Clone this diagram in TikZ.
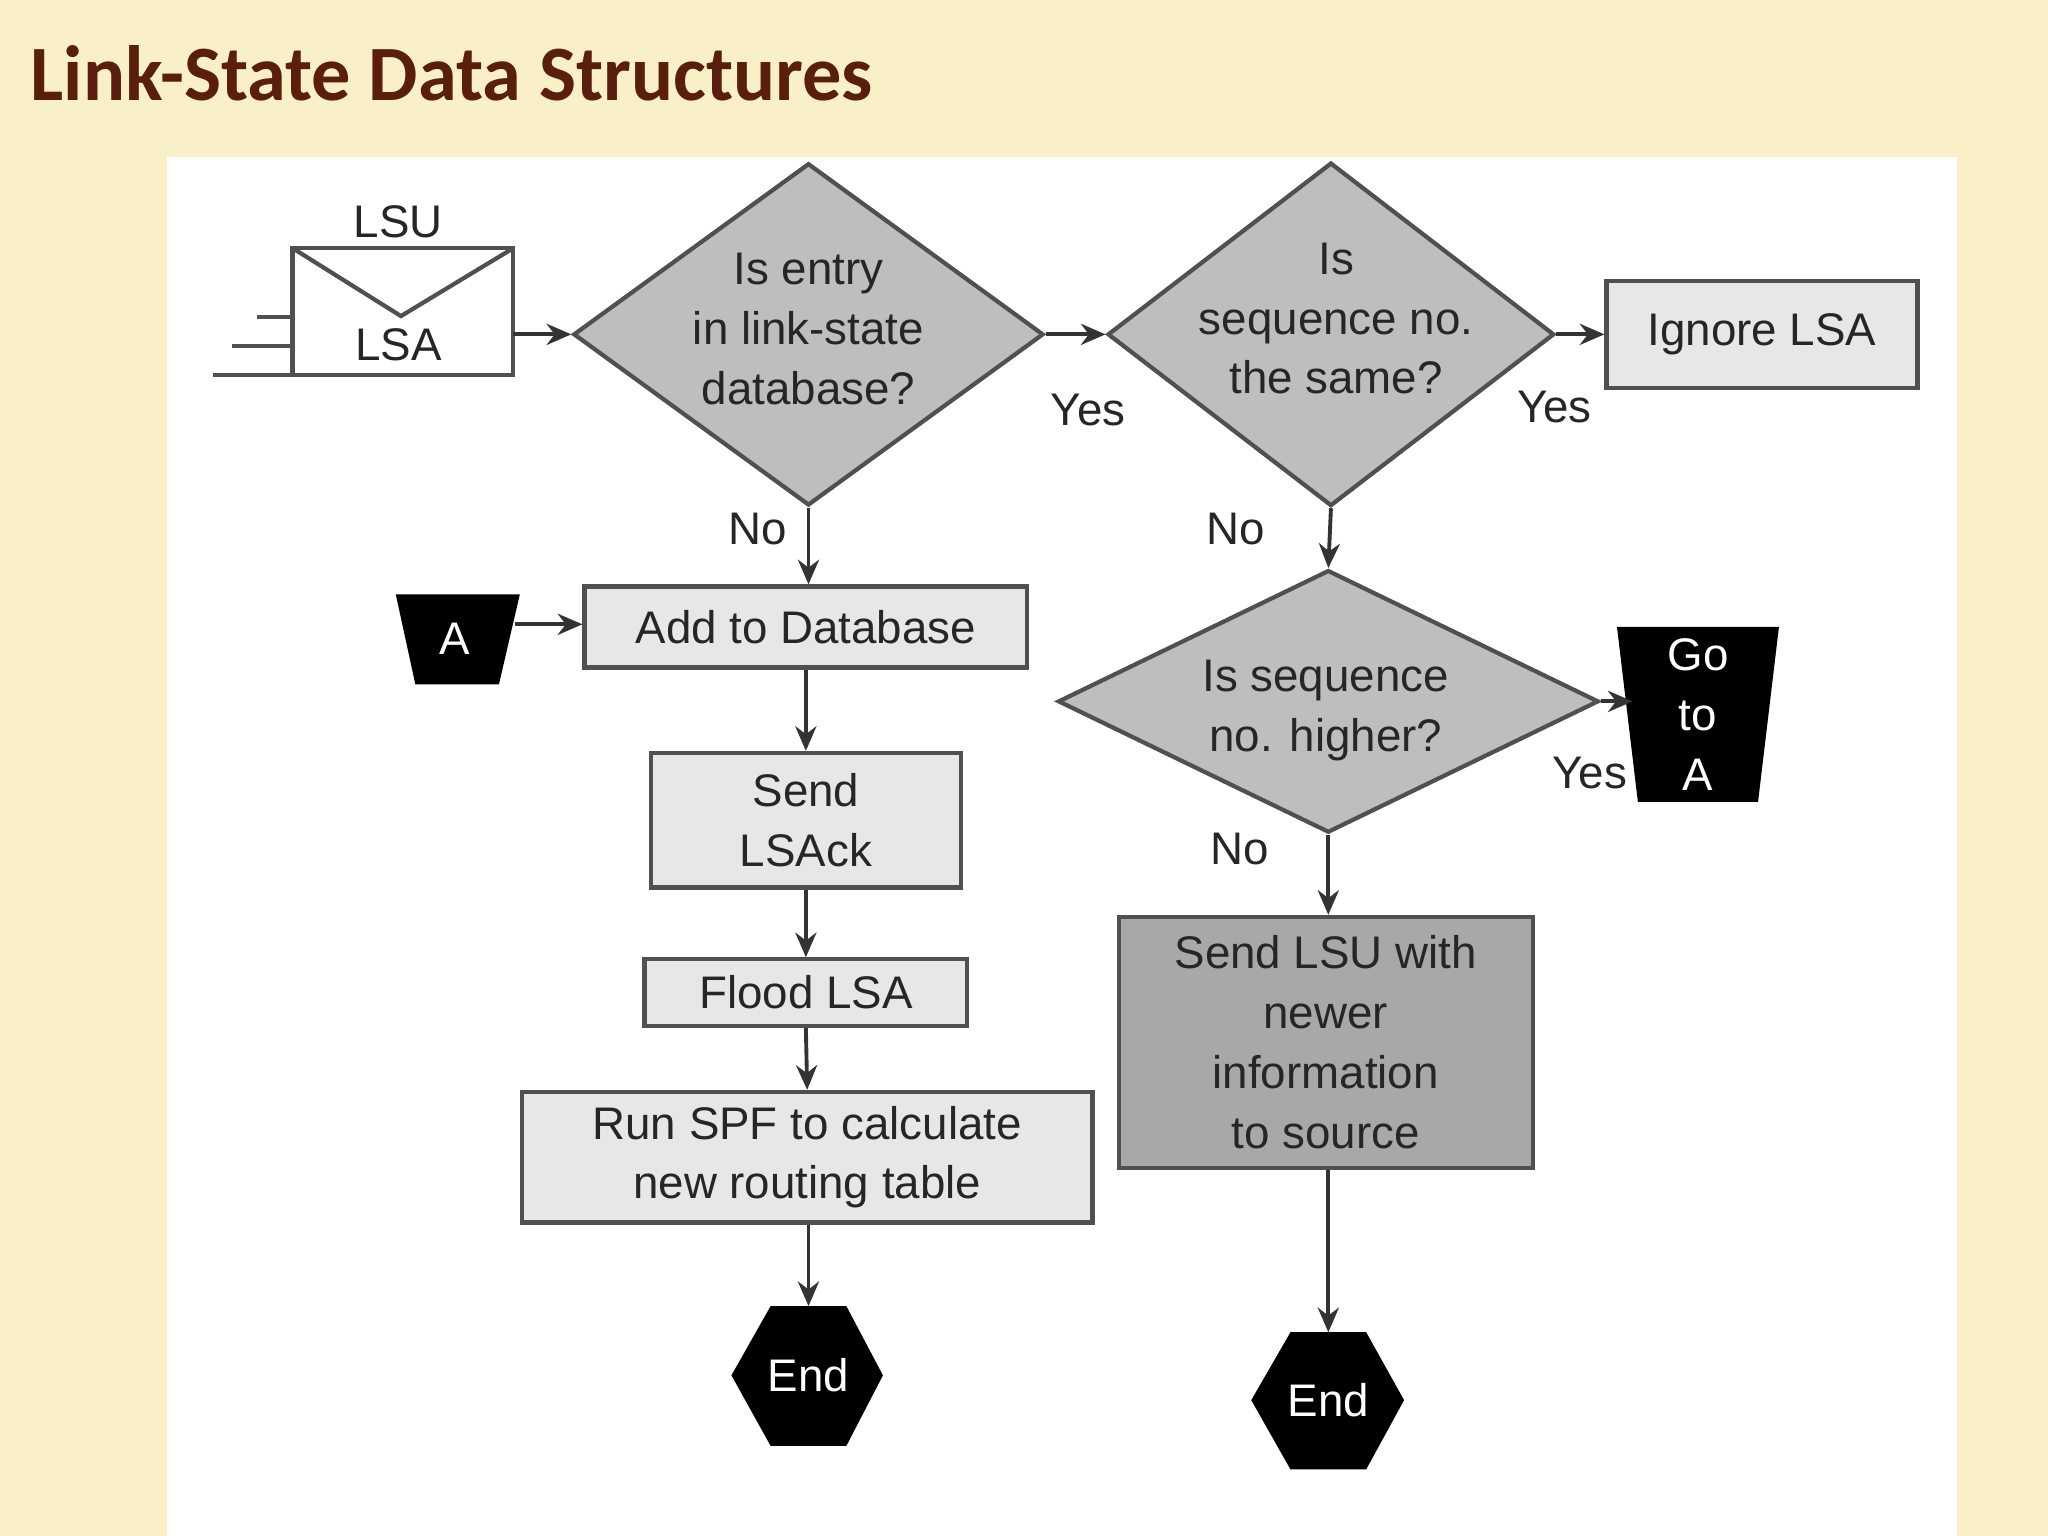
\documentclass[tikz,border=0pt]{standalone}
\usepackage{fontspec}
\setmainfont{Liberation Sans}
\newfontfamily\titlefont{Carlito}
\usetikzlibrary{shapes.geometric,arrows.meta}
\definecolor{bgy}{RGB}{250,240,200}
\definecolor{ttl}{RGB}{90,30,12}
\definecolor{lbox}{RGB}{230,232,232}
\definecolor{dbox}{RGB}{168,168,168}
\definecolor{dia}{RGB}{190,190,190}
\definecolor{edge}{RGB}{80,80,80}
\begin{document}
\begin{tikzpicture}[x=0.01306cm,y=-0.01306cm,
  txt/.style={font=\fontsize{13}{17}\selectfont,align=center,text=black!85},
  box/.style={draw=edge,line width=1.2pt,fill=lbox,inner sep=0pt},
  dshape/.style={diamond,draw=edge,line width=1.2pt,fill=dia,inner sep=0pt},
  arr/.style={-{Stealth[length=7pt,width=6pt]},line width=1.1pt,black!80},
  lab/.style={font=\fontsize{13}{15}\selectfont,text=black!85}]
\fill[bgy] (0,0) rectangle (1568,1176);
\fill[white] (128,120) rectangle (1498,1176);
\useasboundingbox (0,0) rectangle (1568,1176);
\node[anchor=west,font=\titlefont\bfseries\fontsize{22.3}{26}\selectfont,text=ttl] (title) at (14,56) {Link-State Data Structures};
% envelope
\draw[edge,line width=1.2pt] (224,190) rectangle (393,287);
\draw[edge,line width=1.2pt] (224,190) -- (307,242) -- (393,190);
\draw[edge,line width=1.2pt] (197,243) -- (224,243) (178,265) -- (224,265) (163,287) -- (224,287);
\node[txt] (lsu) at (305,170) {LSU};
\node[txt] (lsa) at (305,264) {LSA};
\coordinate (env) at (393,256);
% diamonds
\node[dshape,minimum width=360*0.01306cm,minimum height=262*0.01306cm] (d1) at (619,256) {};
\node[txt] at (619,252) {Is entry\\in link-state\\database?};
\node[dshape,minimum width=342*0.01306cm,minimum height=263*0.01306cm] (d2) at (1019,256) {};
\node[txt] at (1023,244) {Is\\sequence no.\\the same?};
\node[dshape,minimum width=414*0.01306cm,minimum height=201*0.01306cm] (d3) at (1017,537) {};
\node[txt] at (1015,544) {Is sequence\\no. higher?};
% boxes
\node[box,minimum width=238*0.01306cm,minimum height=82*0.01306cm] (ign) at (1349,256) {};
\node[txt] at (ign) {Ignore LSA};
\node[box,minimum width=339*0.01306cm,minimum height=62*0.01306cm] (add) at (617,480) {};
\node[txt] at (add) {Add to Database};
\node[box,minimum width=237*0.01306cm,minimum height=103*0.01306cm] (ack) at (617,628) {};
\node[txt] at (ack) {Send\\LSAck};
\node[box,minimum width=247*0.01306cm,minimum height=51*0.01306cm] (flood) at (617,760) {};
\node[txt] at (flood) {Flood LSA};
\node[box,minimum width=437*0.01306cm,minimum height=100*0.01306cm] (spf) at (618,886) {};
\node[txt] at (spf) {Run SPF to calculate\\new routing table};
\node[box,fill=dbox,minimum width=317*0.01306cm,minimum height=192*0.01306cm] (slsu) at (1015,798) {};
\node[txt] at (slsu) {Send LSU with\\newer\\information\\to source};
% hexagons
\fill[black] (590,1000) -- (648,1000) -- (676,1053) -- (648,1107) -- (590,1107) -- (560,1053) -- cycle;
\node[txt,text=white] (end1) at (619,1053) {End};
\coordinate (e1top) at (619,1000);
\fill[black] (988,1020) -- (1046,1020) -- (1075,1072) -- (1046,1125) -- (988,1125) -- (958,1072) -- cycle;
\node[txt,text=white] (end2) at (1017,1072) {End};
\coordinate (e2top) at (1017,1020);
% trapezoids
\fill[black] (303,455) -- (398,455) -- (382,524) -- (318,524) -- cycle;
\node[txt,text=white] (A) at (348,489) {A};
\coordinate (Aout) at (394,478);
\fill[black] (1238,480) -- (1362,480) -- (1346,614) -- (1254,614) -- cycle;
\node[txt,text=white] (goto) at (1300,547) {Go\\to\\A};
\coordinate (gin) at (1250,537);
% arrows
\draw[arr] (env) -- (d1.west);
\draw[arr] (d1.east) -- (d2.west);
\draw[arr] (d2.east) -- (ign.west);
\draw[arr] (d1.south) -- (d1.south|-add.north);
\draw[arr] (Aout) -- (add.west|-Aout);
\draw[arr] (add.south) -- (ack.north);
\draw[arr] (ack.south) -- (flood.north);
\draw[arr] (flood.south) -- (spf.north);
\draw[arr] (e1top|-spf.south) -- (e1top);
\draw[arr] (d2.south) -- (d3.north);
\draw[arr] (d3.east) -- (gin);
\draw[arr] (d3.south) -- (d3.south|-slsu.north);
\draw[arr] (e2top|-slsu.south) -- (e2top);
% labels
\node[lab] at (833,314) {Yes};
\node[lab] at (1190,312) {Yes};
\node[lab] at (1217,592) {Yes};
\node[lab] at (580,405) {No};
\node[lab] at (946,405) {No};
\node[lab] at (949,650) {No};
\end{tikzpicture}
\end{document}
